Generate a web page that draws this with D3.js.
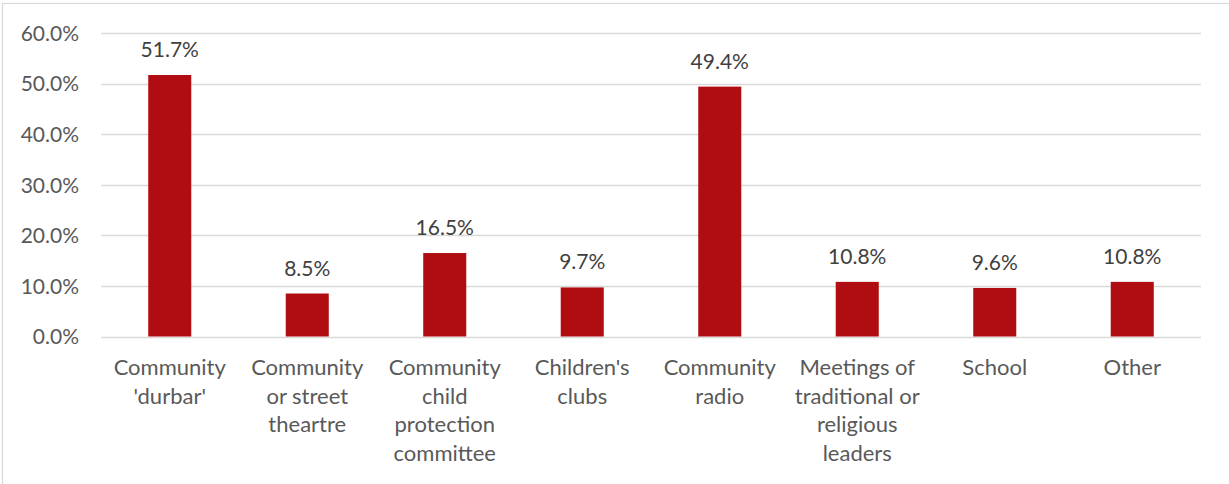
<!DOCTYPE html>
<html>
<head>
<meta charset="utf-8">
<script src="https://cdn.jsdelivr.net/npm/d3@7"></script>
<style>
  html, body { margin: 0; padding: 0; background: #fff; overflow: hidden; }
  svg { display: block; }
</style>
</head>
<body>
<svg id="chart" width="1229" height="484"></svg>
<script>
// Channels used to spread child-protection messages (% of respondents)
const categories = [
  ["Community", "'durbar'"],
  ["Community", "or street", "theartre"],
  ["Community", "child", "protection", "committee"],
  ["Children's", "clubs"],
  ["Community", "radio"],
  ["Meetings of", "traditional or", "religious", "leaders"],
  ["School"],
  ["Other"]
];
const values = [51.7, 8.5, 16.5, 9.7, 49.4, 10.8, 9.6, 10.8];
const yTicks = [0, 10, 20, 30, 40, 50, 60];

const W = 1229, H = 484;
const margin = { left: 101, right: 28, top: 33, bottom: 148 };
const svg = d3.select("#chart");
const font = "Lato, 'Open Sans', sans-serif";

// chart border (runs off the right and bottom edges)
svg.append("rect")
  .attr("x", 2.5).attr("y", 3.5)
  .attr("width", W + 10).attr("height", H + 10)
  .attr("fill", "#fff").attr("stroke", "#d9d9d9").attr("stroke-width", 1.2);

const x = d3.scaleBand()
  .domain(d3.range(categories.length))
  .range([margin.left, W - margin.right])
  .paddingInner(0.687).paddingOuter(0.3435);

const y = d3.scaleLinear().domain([0, 60]).range([H - margin.bottom + 0.5, margin.top]);

// horizontal gridlines
svg.append("g")
  .selectAll("line")
  .data(yTicks)
  .join("line")
  .attr("x1", margin.left).attr("x2", W - margin.right)
  .attr("y1", d => Math.round(y(d)) + 0.5).attr("y2", d => Math.round(y(d)) + 0.5)
  .attr("stroke", "#d9d9d9").attr("stroke-width", 1.5);

// y axis labels
const yAxis = d3.axisLeft(y).tickValues(yTicks).tickSize(0).tickPadding(0)
  .tickFormat(d => d.toFixed(1) + "%");
svg.append("g")
  .attr("transform", `translate(${margin.left - 22},0)`)
  .call(yAxis)
  .call(g => g.select(".domain").remove())
  .call(g => g.selectAll("text")
    .attr("font-family", font).attr("font-size", 21).attr("fill", "#595959")
    .attr("dy", "0.35em"));

// bars
svg.append("g")
  .selectAll("rect")
  .data(values)
  .join("rect")
  .attr("x", (d, i) => x(i))
  .attr("width", x.bandwidth())
  .attr("y", d => y(d))
  .attr("height", d => y(0) - y(d))
  .attr("fill", "#b00d12");

// value labels
svg.append("g")
  .selectAll("text")
  .data(values)
  .join("text")
  .attr("x", (d, i) => x(i) + x.bandwidth() / 2)
  .attr("y", d => y(d) - 18)
  .attr("text-anchor", "middle")
  .attr("font-family", font).attr("font-size", 21).attr("fill", "#404040")
  .text(d => d.toFixed(1) + "%");

// category labels
const cat = svg.append("g")
  .selectAll("text")
  .data(categories)
  .join("text")
  .attr("x", (d, i) => x(i) + x.bandwidth() / 2)
  .attr("y", 375)
  .attr("text-anchor", "middle")
  .attr("font-family", font).attr("font-size", 22).attr("fill", "#595959");
cat.selectAll("tspan")
  .data(d => d)
  .join("tspan")
  .attr("x", function () { return d3.select(this.parentNode).attr("x"); })
  .attr("dy", (d, j) => j === 0 ? 0 : 28.5)
  .text(d => d);
</script>
</body>
</html>
